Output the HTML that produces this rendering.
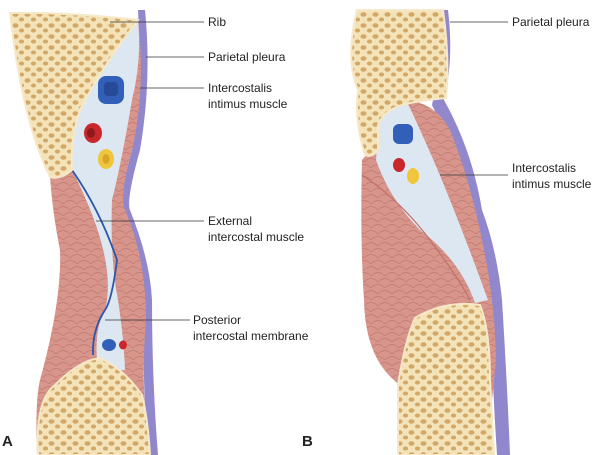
<!DOCTYPE html>
<html><head><meta charset="utf-8"><style>
html,body{margin:0;padding:0;background:#fff;width:600px;height:455px;overflow:hidden}
svg text{font-family:"Liberation Sans",sans-serif;font-size:12px;fill:#222}
</style></head><body>
<svg width="600" height="455" viewBox="0 0 600 455" xmlns="http://www.w3.org/2000/svg">
<defs>
<pattern id="bone" width="12" height="11" patternUnits="userSpaceOnUse">
<rect width="12" height="11" fill="#f4e2b8"/>
<ellipse cx="3.5" cy="3.5" rx="3" ry="2.3" fill="#d2a868"/>
<ellipse cx="9.5" cy="8.5" rx="2.6" ry="2" fill="#d2a868"/>
</pattern>
<pattern id="musc" width="14" height="12" patternUnits="userSpaceOnUse">
<rect width="14" height="12" fill="#d8958c"/>
<path d="M0 6 Q7 -1 14 6 M-7 12 Q0 5 7 12 M7 12 Q14 5 21 12" stroke="#bf7870" stroke-width="0.7" fill="none"/>
</pattern>
</defs>
<!-- Panel A -->
<path d="M145 10 Q152 80 140 150 Q126 200 130 210 Q150 260 152 300 Q152 380 158 455 L148 455 Q142 380 144 300 Q142 250 124 212 Q118 200 132 150 Q142 80 138 10Z" fill="#9187cc"/>
<path d="M50 175 L138 18 Q146 90 132 150 Q118 200 126 212 Q146 260 146 320 Q140 390 150 455 L37 455 Q35 400 40 380 Q62 300 60 250 Q52 210 50 175Z" fill="url(#musc)"/>
<path d="M138 20 Q142 60 132 100 Q122 160 112 200 Q110 260 118 300 Q124 340 125 370 L98 372 Q93 330 105 310 Q118 260 72 170 Q70 140 80 110 Q100 70 138 20Z" fill="#dde7f1"/>
<path d="M72 170 Q100 210 117 260 Q112 300 105 310 Q92 330 93 355" stroke="#2c56a8" stroke-width="1.8" fill="none"/>
<path d="M10 13 Q70 12 138 20 Q100 70 80 110 Q70 140 72 170 Q60 180 50 177 Q22 120 10 13Z" fill="url(#bone)" stroke="#f6e8c8" stroke-width="2"/>
<path d="M38 455 Q35 400 55 385 Q80 360 100 358 Q125 370 142 395 Q148 420 150 455Z" fill="url(#bone)" stroke="#f6e8c8" stroke-width="2"/>
<rect x="98" y="76" width="26" height="28" rx="8" fill="#3260b8"/>
<rect x="104" y="82" width="14" height="14" rx="4" fill="#274a96"/>
<ellipse cx="93" cy="133" rx="9" ry="10" fill="#c8282c"/>
<ellipse cx="91" cy="133" rx="4" ry="5" fill="#8f1a1c"/>
<ellipse cx="106" cy="159" rx="8" ry="10" fill="#efc53a"/>
<ellipse cx="106" cy="159" rx="3.5" ry="5" fill="#d9a526"/>
<ellipse cx="109" cy="345" rx="7" ry="6" fill="#3260b8"/>
<ellipse cx="123" cy="345" rx="4" ry="4.5" fill="#c8282c"/>
<!-- Panel B -->
<path d="M448 10 Q454 60 444 100 Q472 150 482 210 Q497 250 502 300 Q507 380 510 455 L497 455 Q492 380 490 300 Q484 250 470 210 Q455 150 432 105 Q442 60 440 10Z" fill="#9187cc"/>
<path d="M405 100 Q435 102 450 130 Q470 180 482 240 Q495 300 496 360 Q490 420 488 440 L470 390 L400 385 Q365 360 364 300 Q360 240 362 160 Q380 140 405 100Z" fill="url(#musc)"/>
<path d="M380 105 L408 104 Q430 150 450 200 Q470 250 488 300 L475 303 Q460 260 420 230 Q390 200 376 160Z" fill="#dde7f1"/>
<path d="M362 175 Q400 200 430 240 Q460 280 470 300" stroke="#c07068" stroke-width="1.2" fill="none"/>
<path d="M357 10 L443 10 Q450 60 446 98 Q425 100 410 103 Q385 108 378 125 L378 150 Q372 158 365 155 Q354 120 358 90 Q345 60 357 10Z" fill="url(#bone)" stroke="#f6e8c8" stroke-width="2"/>
<path d="M398 455 L398 385 Q405 340 415 318 Q445 300 480 305 Q490 330 490 380 L494 455Z" fill="url(#bone)" stroke="#f6e8c8" stroke-width="2"/>
<rect x="393" y="124" width="20" height="20" rx="6" fill="#3260b8"/>
<ellipse cx="399" cy="165" rx="6" ry="7" fill="#c8282c"/>
<ellipse cx="413" cy="176" rx="6" ry="8" fill="#efc53a"/>
<g stroke="#333" stroke-width="0.8">
<line x1="110" y1="22" x2="204" y2="22"/>
<line x1="146" y1="57" x2="204" y2="57"/>
<line x1="140" y1="88" x2="204" y2="88"/>
<line x1="96" y1="221" x2="204" y2="221"/>
<line x1="105" y1="320" x2="190" y2="320"/>
<line x1="450" y1="22" x2="508" y2="22"/>
<line x1="440" y1="175" x2="508" y2="175"/>
</g>
<text x="208" y="26">Rib</text>
<text x="208" y="61">Parietal pleura</text>
<text x="208" y="92">Intercostalis</text>
<text x="208" y="108">intimus muscle</text>
<text x="208" y="225">External</text>
<text x="208" y="241">intercostal muscle</text>
<text x="193" y="324">Posterior</text>
<text x="193" y="340">intercostal membrane</text>
<text x="512" y="26">Parietal pleura</text>
<text x="512" y="172">Intercostalis</text>
<text x="512" y="188">intimus muscle</text>
<text x="2" y="446" style="font-weight:bold;font-size:15px">A</text>
<text x="302" y="446" style="font-weight:bold;font-size:15px">B</text>
</svg>
</body></html>
